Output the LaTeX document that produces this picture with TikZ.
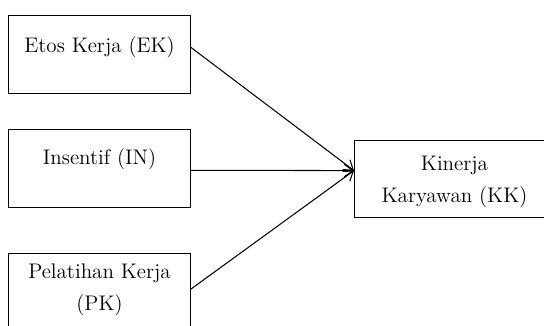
\documentclass[tikz,border=0pt]{standalone}
\usetikzlibrary{arrows.meta,positioning}
\begin{document}
\begin{tikzpicture}[x=0.02cm, y=-0.02cm, >={Straight Barb[length=5pt,width=7pt]}, line width=0.6pt,
    box/.style={draw, rectangle, inner sep=0pt, anchor=north west, minimum width=3.64cm, minimum height=1.56cm},
    lbl/.style={inner sep=0pt, anchor=north, align=center, font=\fontsize{12}{18}\selectfont}]
    % Frame
    \useasboundingbox (0,0) rectangle (544,325);
    \clip (0,0) rectangle (544,325);

    % Input variables
    \node[box] (ek) at (8,15) {};
    \node[lbl] (ektext) at ([yshift=-12pt]ek.north) {Etos Kerja (EK)};
    \node[box] (in) at (8,129) {};
    \node[lbl] (intext) at ([yshift=-11pt]in.north) {Insentif (IN)};
    \node[box] (pk) at (8,253) {};
    \node[lbl] (pktext) at ([yshift=-6pt]pk.north) {Pelatihan Kerja\\(PK)};

    % Output variable
    \node[box, minimum width=4cm, minimum height=1.54cm] (kk) at (354,140) {};
    \node[lbl] (kktext) at ([yshift=-9pt]kk.north) {Kinerja\\Karyawan (KK)};

    % Arrows meet at one point on the left side
    \coordinate (tip) at ([yshift=4.8pt]kk.west);
    \draw[->] ([yshift=4pt]ek.east) -- (tip);
    \draw[->] ([yshift=-1pt]in.east) -- (tip);
    \draw[->] ([yshift=2pt]pk.east) -- (tip);
\end{tikzpicture}
\end{document}
